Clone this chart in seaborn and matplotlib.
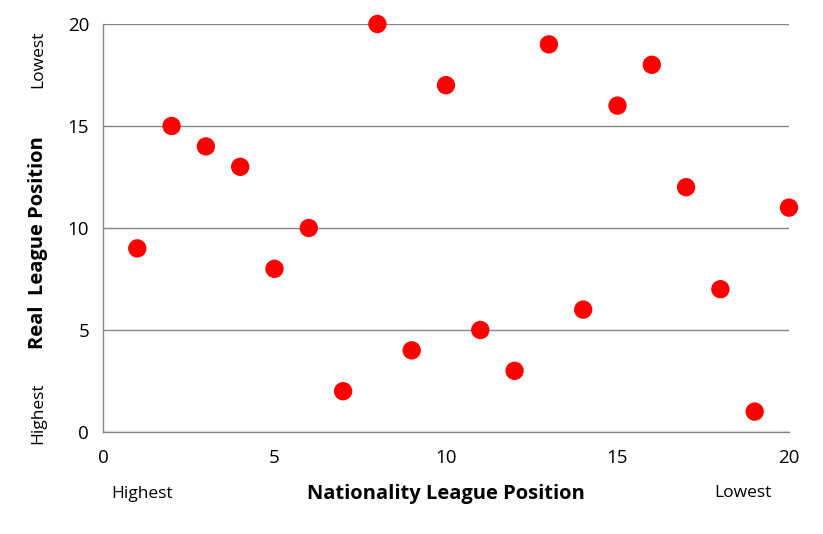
import matplotlib
matplotlib.use("Agg")
import matplotlib.pyplot as plt
import seaborn as sns
import pandas as pd

nationality_pos = list(range(1, 21))
real_pos = [9, 15, 14, 13, 8, 10, 2, 20, 4, 17, 5, 3, 19, 6, 16, 18, 12, 7, 1, 11]

sns.set_style("white")
plt.rcParams['font.family'] = ['Open Sans', 'DejaVu Sans']
plt.rcParams['text.color'] = 'black'

df = pd.DataFrame({"x": nationality_pos, "y": real_pos})

fig = plt.figure(figsize=(8.23, 5.34), dpi=100)
ax = fig.add_axes([103/823, 1-432/534, (789-103)/823, (432-24)/534])

ax.set_xlim(0, 20)
ax.set_ylim(0, 20)
ax.set_xticks([0, 5, 10, 15, 20])
ax.set_yticks([0, 5, 10, 15, 20])
ax.yaxis.grid(True, color="#868686", linewidth=1)
ax.set_axisbelow(True)

sns.scatterplot(data=df, x="x", y="y", ax=ax, color="#FF0000", s=175,
                edgecolor="none", legend=False, zorder=3, clip_on=False)

for s in ["top", "right"]:
    ax.spines[s].set_visible(False)
for s in ["left", "bottom"]:
    ax.spines[s].set_color("#868686")
    ax.spines[s].set_linewidth(1)
ax.tick_params(axis="both", which="both", direction="out", length=6, width=1,
               color="#868686", labelsize=13.5, labelcolor="black", pad=4)
ax.tick_params(axis="x", pad=6)

ax.set_xlabel("")
ax.set_ylabel("")

fig.text(446/823, 1-494/534, "Nationality League Position", ha="center", va="center",
         fontsize=14.5, fontweight="bold", color="black")
fig.text(38/823, 1-243/534, "Real  League Position", ha="center", va="center",
         rotation=90, fontsize=14.5, fontweight="bold", color="black")
fig.text(142/823, 1-494/534, "Highest", ha="center", va="center", fontsize=12.5, color="black")
fig.text(743/823, 1-493/534, "Lowest", ha="center", va="center", fontsize=12.5, color="black")
fig.text(38/823, 1-59/534, "Lowest", ha="center", va="center", rotation=90, fontsize=12.5, color="black")
fig.text(38/823, 1-413/534, "Highest", ha="center", va="center", rotation=90, fontsize=12.5, color="black")

fig.savefig("out.png", dpi=100)
